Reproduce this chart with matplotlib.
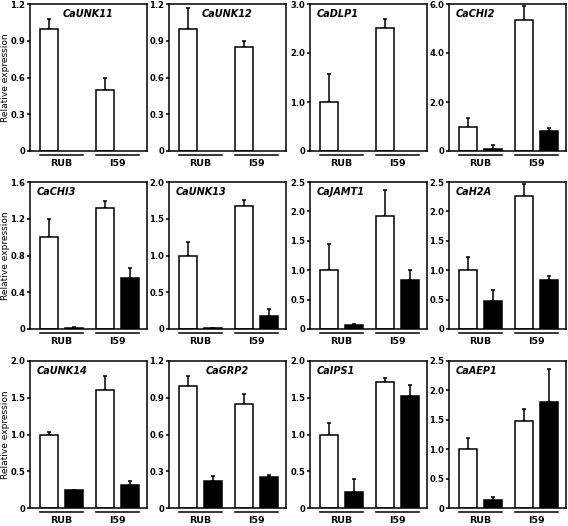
import matplotlib
matplotlib.use('Agg')
import matplotlib.pyplot as plt
import matplotlib.transforms as mtransforms

plt.rcParams['font.family'] = 'DejaVu Sans'

genes = ['CaUNK11', 'CaUNK12', 'CaDLP1', 'CaCHI2',
         'CaCHI3', 'CaUNK13', 'CaJAMT1', 'CaH2A',
         'CaUNK14', 'CaGRP2', 'CaIPS1', 'CaAEP1']
groups = ['RUB', 'I59']

# white bars (RUB, I59) and their errors
white = [[1.0, 0.5], [1.0, 0.85], [1.0, 2.52], [1.0, 5.35],
         [1.0, 1.32], [1.0, 1.68], [1.0, 1.92], [1.0, 2.27],
         [1.0, 1.6], [1.0, 0.85], [1.0, 1.72], [1.0, 1.48]]
white_err = [[0.08, 0.1], [0.17, 0.05], [0.57, 0.18], [0.35, 0.55],
             [0.2, 0.07], [0.18, 0.07], [0.45, 0.45], [0.23, 0.19],
             [0.03, 0.2], [0.08, 0.08], [0.16, 0.05], [0.19, 0.2]]
# black bars (None = not shown)
black = [None, None, None, [0.08, 0.82],
         [0.015, 0.56], [0.01, 0.18], [0.06, 0.84], [0.47, 0.83],
         [0.24, 0.31], [0.22, 0.25], [0.22, 1.52], [0.13, 1.8]]
black_err = [None, None, None, [0.15, 0.1],
             [0.005, 0.1], [0.005, 0.09], [0.02, 0.16], [0.19, 0.07],
             [0.01, 0.06], [0.04, 0.02], [0.18, 0.16], [0.06, 0.57]]
ymax = [1.2, 1.2, 3.0, 6.0, 1.6, 2.0, 2.5, 2.5, 2.0, 1.2, 2.0, 2.5]
ystep = [0.3, 0.3, 1.0, 2.0, 0.4, 0.5, 0.5, 0.5, 0.5, 0.3, 0.5, 0.5]
centered = ['CaUNK11', 'CaUNK12', 'CaGRP2']

W, H = 568, 526
fig = plt.figure(figsize=(W / 100, H / 100), dpi=100)
lefts = [30, 169, 310, 449]
tops = [4, 182, 361]
aw, ah = 117, 147
lw = 1.1

wpos = [0, 2.25]
bpos = [1, 3.25]
bw = 0.72

for i, g in enumerate(genes):
    r, c = divmod(i, 4)
    ax = fig.add_axes([lefts[c] / W, 1 - (tops[r] + ah) / H, aw / W, ah / H])
    ax.bar(wpos, white[i], width=bw, color='white', edgecolor='black', lw=lw, zorder=2)
    ax.errorbar(wpos, white[i], yerr=[[0, 0], white_err[i]], fmt='none',
                ecolor='black', elinewidth=lw, capsize=1.6, capthick=lw, zorder=1)
    if black[i] is not None:
        ax.bar(bpos, black[i], width=bw, color='black', edgecolor='black', lw=lw, zorder=2)
        ax.errorbar(bpos, black[i], yerr=[[0, 0], black_err[i]], fmt='none',
                    ecolor='black', elinewidth=lw, capsize=1.6, capthick=lw, zorder=1)
    ax.set_xlim(-0.76, 3.92)
    ax.set_ylim(0, ymax[i])
    n = int(round(ymax[i] / ystep[i]))
    ticks = [k * ystep[i] for k in range(n + 1)]
    ax.set_yticks(ticks)
    ax.set_yticklabels(['0'] + [f'{t:.1f}' for t in ticks[1:]],
                       fontsize=6, fontweight='bold')
    ax.set_xticks([])
    ax.tick_params(axis='y', direction='out', length=2.5, width=lw, pad=1)
    for s in ax.spines.values():
        s.set_linewidth(lw)

    if g in centered:
        ax.text(0.5, 0.93, g, transform=ax.transAxes, ha='center', va='center',
                fontsize=7, fontweight='bold', style='italic')
    else:
        ax.text(0.06, 0.93, g, transform=ax.transAxes, ha='left', va='center',
                fontsize=7, fontweight='bold', style='italic')

    trans = mtransforms.blended_transform_factory(ax.transData, ax.transAxes)
    for gi, lab in enumerate(groups):
        x0 = wpos[gi] - bw / 2
        x1 = bpos[gi] + bw / 2
        ax.plot([x0, x1], [-0.026, -0.026], color='black', lw=lw,
                transform=trans, clip_on=False)
        ax.text((x0 + x1) / 2, -0.085, lab, transform=trans, ha='center',
                va='center', fontsize=6.8, fontweight='bold')

    if c == 0:
        ax.set_ylabel('Relative expression', fontsize=6.5)
        ax.yaxis.set_label_coords(-0.168, 0.5)

fig.savefig('out.png', dpi=100)
